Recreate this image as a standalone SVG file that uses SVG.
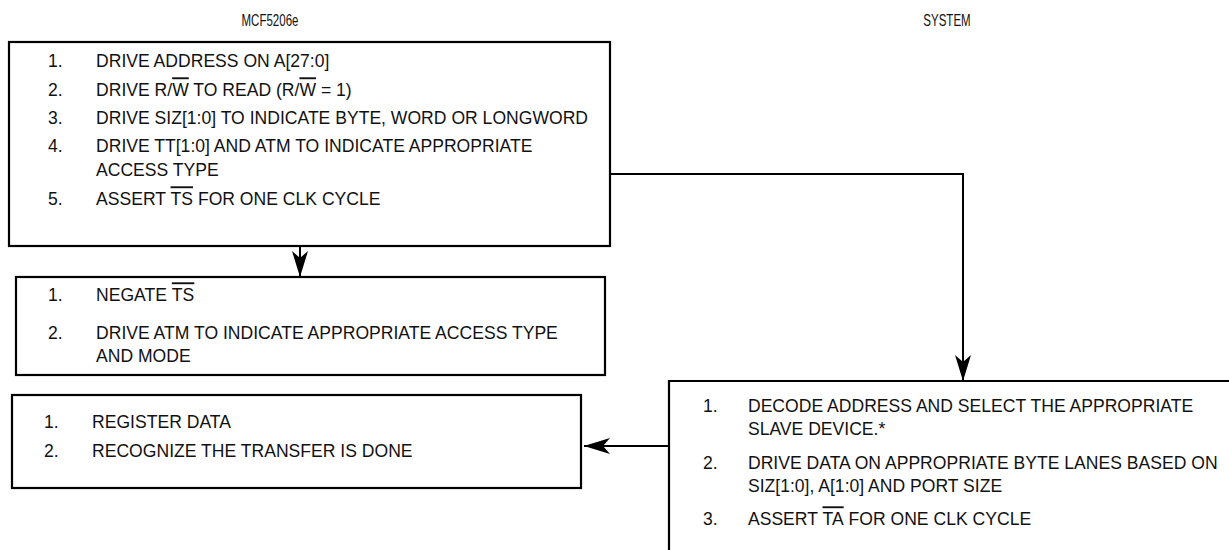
<svg xmlns="http://www.w3.org/2000/svg" width="1229" height="550" viewBox="0 0 1229 550">
<style>
text{font-family:"Liberation Sans",Arial,sans-serif;font-size:19px;fill:#111}
.lbl{font-size:16px}
.box{fill:none;stroke:#000;stroke-width:2.2}
.conn{fill:none;stroke:#000;stroke-width:2}
.ol{text-decoration:overline}
</style>
<defs>
<marker id="ah" markerUnits="userSpaceOnUse" viewBox="0 0 26 16" refX="26" refY="8" markerWidth="26" markerHeight="16" orient="auto">
<path d="M0,0 L26,8 L0,16 L7,8 Z" fill="#000"/>
</marker>
</defs>
<rect width="1229" height="550" fill="#fff"/>
<text class="lbl" transform="translate(270 26) scale(0.72 1)" text-anchor="middle">MCF5206e</text>
<text class="lbl" transform="translate(947 26) scale(0.72 1)" text-anchor="middle">SYSTEM</text>
<g id="connectors">
<path class="conn" d="M300,246 V277" marker-end="url(#ah)"/>
<path class="conn" d="M610,174 H963 V381" marker-end="url(#ah)"/>
<path class="conn" d="M669,446 H584" marker-end="url(#ah)"/>
</g>
<g id="node1">
<rect class="box" x="9" y="42" width="601" height="204"/>
<g transform="scale(0.925 1)">
<text x="51.9" y="67">1.</text><text x="103.8" y="67">DRIVE ADDRESS ON A[27:0]</text>
<text x="51.9" y="96">2.</text><text x="103.8" y="96">DRIVE R/<tspan class="ol">W</tspan> TO READ (R/<tspan class="ol">W</tspan> = 1)</text>
<text x="51.9" y="124">3.</text><text x="103.8" y="124">DRIVE SIZ[1:0] TO INDICATE BYTE, WORD OR LONGWORD</text>
<text x="51.9" y="152">4.</text><text x="103.8" y="152">DRIVE TT[1:0] AND ATM TO INDICATE APPROPRIATE</text>
<text x="103.8" y="176">ACCESS TYPE</text>
<text x="51.9" y="205">5.</text><text x="103.8" y="205">ASSERT <tspan class="ol">TS</tspan> FOR ONE CLK CYCLE</text>
</g>
</g>
<g id="node2">
<rect class="box" x="16" y="277" width="589" height="98"/>
<g transform="scale(0.925 1)">
<text x="51.9" y="301">1.</text><text x="103.8" y="301">NEGATE <tspan class="ol">TS</tspan></text>
<text x="51.9" y="339">2.</text><text x="103.8" y="339">DRIVE ATM TO INDICATE APPROPRIATE ACCESS TYPE</text>
<text x="103.8" y="362">AND MODE</text>
</g>
</g>
<g id="node3">
<rect class="box" x="12" y="395" width="569" height="93"/>
<g transform="scale(0.925 1)">
<text x="47.6" y="428">1.</text><text x="99.5" y="428">REGISTER DATA</text>
<text x="47.6" y="457">2.</text><text x="99.5" y="457">RECOGNIZE THE TRANSFER IS DONE</text>
</g>
</g>
<g id="node4">
<path class="box" d="M669,560 V381 H1240"/>
<g transform="scale(0.925 1)">
<text x="760" y="412">1.</text><text x="808.6" y="412">DECODE ADDRESS AND SELECT THE APPROPRIATE</text>
<text x="808.6" y="435">SLAVE DEVICE.*</text>
<text x="760" y="469">2.</text><text x="808.6" y="469">DRIVE DATA ON APPROPRIATE BYTE LANES BASED ON</text>
<text x="808.6" y="492">SIZ[1:0], A[1:0] AND PORT SIZE</text>
<text x="760" y="525">3.</text><text x="808.6" y="525">ASSERT <tspan class="ol">TA</tspan> FOR ONE CLK CYCLE</text>
</g>
</g>
</svg>
